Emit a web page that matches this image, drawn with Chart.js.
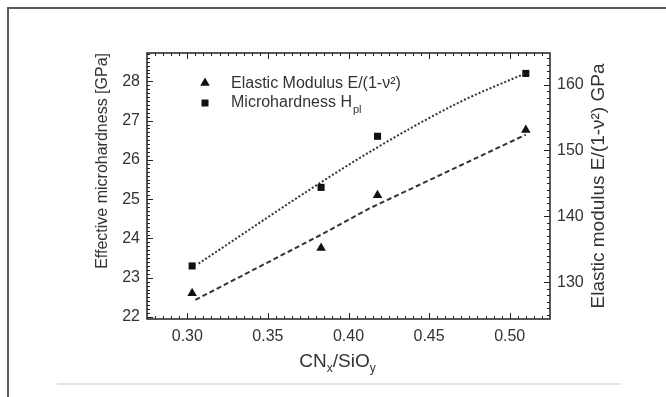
<!DOCTYPE html>
<html>
<head>
<meta charset="utf-8">
<script src="https://cdn.jsdelivr.net/npm/chart.js@4.4.1/dist/chart.umd.min.js"></script>
<style>
  html, body { margin: 0; padding: 0; background: #fff; }
  #wrap { position: relative; width: 666px; height: 397px; overflow: hidden; }
  #chart { position: absolute; left: 0; top: 0; }
  #frame { position: absolute; left: 7px; top: 7px; width: 700px; height: 420px;
           border-top: 2px solid #5b5b5b; border-left: 2px solid #5b5b5b; }
  #rule { position: absolute; left: 57px; top: 383px; width: 564px; height: 2px; background: #e4e4e4; }
</style>
</head>
<body>
<div id="wrap">
  <canvas id="chart" width="666" height="397"></canvas>
  <div id="frame"></div>
  <div id="rule"></div>
</div>
<script>
// measured points (CNx/SiOy ratio)
const ratio = [0.303, 0.383, 0.418, 0.510];
const microhardness = [23.3, 25.3, 26.6, 28.2]; // GPa, left axis
const elasticModulus = [128.3, 135.2, 143.2, 153.1]; // GPa, right axis

// fit curves as drawn in the figure
const hardFitRatio = [0.307, 0.383, 0.418, 0.469, 0.509];
const hardFit = [23.36, 25.43, 26.32, 27.47, 28.19];
const modFitRatio = [0.305, 0.383, 0.413, 0.510];
const modFit = [127.3, 137.2, 141.2, 152.4];

// tick labels
const xTicks = [0.30, 0.35, 0.40, 0.45, 0.50];
const hardTicks = [22, 23, 24, 25, 26, 27, 28];
const modTicks = [130, 140, 150, 160];

const FONT = "'Liberation Sans', Arial, sans-serif";
const TEXT = "#333";

const pts = (xs, ys) => xs.map((x, i) => ({ x: x, y: ys[i] }));
const isMajor = (list, v) => list.some((t) => Math.abs(t - v) < 1e-6);

// box around the plot + inward major/minor ticks on all four sides
const boxTicks = {
  id: "boxTicks",
  afterDatasetsDraw(chart) {
    const ctx = chart.ctx;
    const a = chart.chartArea;
    const sx = chart.scales.x, sl = chart.scales.y, sr = chart.scales.y2;
    ctx.save();
    ctx.strokeStyle = "#222";
    ctx.lineWidth = 1.5;
    ctx.strokeRect(a.left, a.top, a.right - a.left, a.bottom - a.top);
    ctx.lineWidth = 1;
    ctx.beginPath();
    for (let i = 56; i <= 104; i++) {
      const v = i * 0.005;
      const p = Math.round(sx.getPixelForValue(v)) + 0.5;
      const len = isMajor(xTicks, v) ? 6 : 3;
      ctx.moveTo(p, a.bottom); ctx.lineTo(p, a.bottom - len);
      ctx.moveTo(p, a.top); ctx.lineTo(p, a.top + len);
    }
    for (let i = 220; i <= 287; i++) {
      const v = i / 10;
      const p = Math.round(sl.getPixelForValue(v)) + 0.5;
      const len = isMajor(hardTicks, v) ? 6 : 3;
      ctx.moveTo(a.left, p); ctx.lineTo(a.left + len, p);
    }
    for (let i = 125; i <= 164; i++) {
      const p = Math.round(sr.getPixelForValue(i)) + 0.5;
      const len = isMajor(modTicks, i) ? 6 : 3;
      ctx.moveTo(a.right, p); ctx.lineTo(a.right - len, p);
    }
    ctx.stroke();
    ctx.restore();
  },
};

// texts with sub/superscripts: legend, x title, right title
const labels = {
  id: "labels",
  afterDraw(chart) {
    const ctx = chart.ctx;
    const a = chart.chartArea;
    ctx.save();
    ctx.fillStyle = "#111";
    ctx.textBaseline = "middle";

    // legend
    const lx = a.left + 58, ly1 = a.top + 30, ly2 = a.top + 50;
    const r = 5.5;
    ctx.beginPath();
    ctx.moveTo(lx, ly1 - r);
    ctx.lineTo(lx + r * 0.866, ly1 + r * 0.5);
    ctx.lineTo(lx - r * 0.866, ly1 + r * 0.5);
    ctx.closePath();
    ctx.fill();
    ctx.fillRect(lx - 3.5, ly2 - 3.5, 7, 7);

    ctx.fillStyle = TEXT;
    ctx.textAlign = "left";
    ctx.font = "16px " + FONT;
    const tx = a.left + 84;
    ctx.fillText("Elastic Modulus E/(1-\u03bd\u00b2)", tx, ly1 + 1);
    ctx.fillText("Microhardness H", tx, ly2);
    const w = ctx.measureText("Microhardness H").width;
    ctx.font = "11px " + FONT;
    ctx.fillText("pl", tx + w + 1, ly2 + 7);

    // x axis title
    const big = "19px " + FONT, small = "12px " + FONT;
    const parts = [["CN", big, 0], ["x", small, 7], ["/SiO", big, 0], ["y", small, 7]];
    let total = 0;
    parts.forEach((p) => { ctx.font = p[1]; total += ctx.measureText(p[0]).width; });
    let x = (a.left + a.right) / 2 - 11 - total / 2;
    const y = a.bottom + 43;
    parts.forEach((p) => {
      ctx.font = p[1];
      ctx.fillText(p[0], x, y + p[2]);
      x += ctx.measureText(p[0]).width;
    });

    // right axis title, reading upwards
    ctx.translate(a.right + 49, (a.top + a.bottom) / 2);
    ctx.rotate(-Math.PI / 2);
    ctx.textAlign = "center";
    ctx.font = "19px " + FONT;
    ctx.fillText("Elastic modulus E/(1-\u03bd\u00b2) GPa", 0, 0);
    ctx.restore();
  },
};

const makeChart = () => {
  const chart_ctx = document.getElementById("chart");
  const data = {
    datasets: [
      {
        label: "Microhardness fit",
        data: pts(hardFitRatio, hardFit),
        yAxisID: "y",
        borderColor: "#333",
        borderWidth: 2,
        borderDash: [2, 2],
        pointRadius: 0,
        cubicInterpolationMode: "monotone",
        showLine: true,
      },
      {
        label: "Elastic modulus fit",
        data: pts(modFitRatio, modFit),
        yAxisID: "y2",
        borderColor: "#333",
        borderWidth: 2,
        borderDash: [5, 3],
        pointRadius: 0,
        showLine: true,
      },
      {
        label: "Microhardness Hpl",
        data: pts(ratio, microhardness),
        yAxisID: "y",
        pointStyle: "rect",
        pointRadius: 5,
        backgroundColor: "#111",
        borderColor: "#111",
        borderWidth: 0,
        showLine: false,
      },
      {
        label: "Elastic Modulus E/(1-v2)",
        data: pts(ratio, elasticModulus),
        yAxisID: "y2",
        pointStyle: "triangle",
        pointRadius: 5.5,
        backgroundColor: "#111",
        borderColor: "#111",
        borderWidth: 0,
        showLine: false,
      },
    ],
  };
  const tickFont = { family: FONT, size: 16 };
  const config = {
    type: "scatter",
    data,
    options: {
      responsive: false,
      animation: false,
      layout: { padding: { left: 89, right: 53, top: 53, bottom: 0 } },
      plugins: { legend: { display: false }, tooltip: { enabled: false } },
      scales: {
        x: {
          type: "linear",
          min: 0.275,
          max: 0.525,
          afterBuildTicks: (s) => { s.ticks = xTicks.map((v) => ({ value: v })); },
          afterFit: (s) => { s.height = 78; },
          ticks: { font: tickFont, color: TEXT, padding: 8, maxRotation: 0, autoSkip: false,
                   callback: (v) => Number(v).toFixed(2) },
          grid: { display: false, drawTicks: false },
          border: { display: false },
        },
        y: {
          position: "left",
          min: 21.95,
          max: 28.72,
          afterBuildTicks: (s) => { s.ticks = hardTicks.map((v) => ({ value: v })); },
          afterFit: (s) => { s.width = 58; },
          ticks: { font: tickFont, color: TEXT, padding: 7, autoSkip: false },
          grid: { display: false, drawTicks: false },
          border: { display: false },
          title: {
            display: true,
            text: "Effective microhardness [GPa]",
            font: { family: FONT, size: 16 },
            color: TEXT,
            align: "end",
          },
        },
        y2: {
          position: "right",
          min: 124.4,
          max: 164.8,
          afterBuildTicks: (s) => { s.ticks = modTicks.map((v) => ({ value: v })); },
          afterFit: (s) => { s.width = 63; },
          ticks: { font: tickFont, color: TEXT, padding: 7, autoSkip: false },
          grid: { display: false, drawTicks: false },
          border: { display: false },
        },
      },
    },
    plugins: [boxTicks, labels],
  };
  return new Chart(chart_ctx, config);
};

makeChart();
</script>
</body>
</html>
